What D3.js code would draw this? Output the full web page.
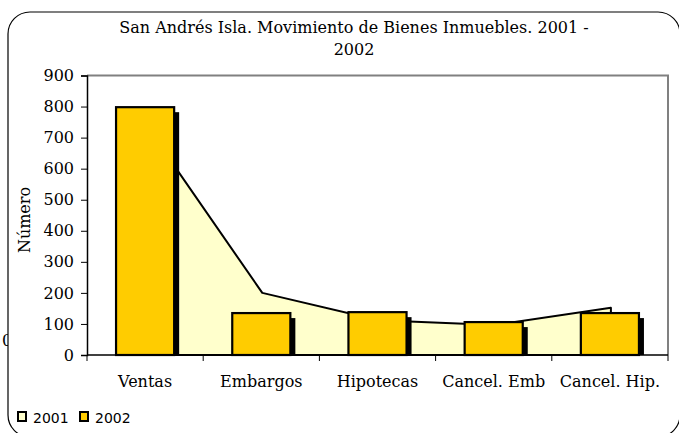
<!DOCTYPE html>
<html><head><meta charset="utf-8">
<script src="https://cdn.jsdelivr.net/npm/d3@7"></script>
<style>html,body{margin:0;padding:0;background:#fff;}svg{display:block;}</style>
</head><body>
<script>
const categories = ["Ventas", "Embargos", "Hipotecas", "Cancel. Emb", "Cancel. Hip."];
const series2001 = [740, 200, 112, 97, 152];
const series2002 = [798, 135, 138, 106, 135];
const yTicks = [0, 100, 200, 300, 400, 500, 600, 700, 800, 900];
const seriesNames = ["2001", "2002"];
const titleLines = ["San Andrés Isla. Movimiento de Bienes Inmuebles. 2001 -", "2002"];
const yLabel = "Número";

const W = 679, H = 433;
const svg = d3.select("body").append("svg").attr("width", W).attr("height", H);
const serif = "'DejaVu Serif', serif";
const sans = "'DejaVu Sans', sans-serif";

// clipped stray text
svg.append("text").attr("x", 2).attr("y", 346).style("font-family", serif).style("font-size", "16px").text("0");
// chart area
svg.append("rect").attr("x", 8).attr("y", 12).attr("width", 672).attr("height", 425)
  .attr("rx", 22).attr("fill", "#fff").attr("stroke", "#000").attr("stroke-width", 1.2);

const pL = 87, pR = 668, pT = 75.5, pB = 355;
const x = d3.scaleBand().domain(categories).range([pL, pR]);
const y = d3.scaleLinear().domain([0, 900]).range([pB, pT]);

// plot border (gray)
svg.append("path").attr("d", `M${pL},${pT}H${pR}V${pB}`).attr("fill", "none")
  .attr("stroke", "#808080").attr("stroke-width", 2);

// 2001 area
const area = d3.area().x((d, i) => x(categories[i]) + x.bandwidth() / 2 + 1).y0(y(0)).y1(d => y(d));
svg.append("path").datum(series2001).attr("d", area).attr("fill", "#FFFFCC")
  .attr("stroke", "#000").attr("stroke-width", 2).attr("stroke-linejoin", "round");

// 2002 bars
const bw = x.bandwidth() * 0.5;
const bx = c => x(c) + (x.bandwidth() - bw) / 2;
svg.append("g").selectAll("rect").data(series2002).join("rect")
  .attr("x", (d, i) => bx(categories[i]) + 5).attr("y", d => y(d) + 5)
  .attr("width", bw).attr("height", d => y(0) - y(d) - 5).attr("fill", "#000");
svg.append("g").selectAll("rect").data(series2002).join("rect")
  .attr("x", (d, i) => bx(categories[i])).attr("y", d => y(d))
  .attr("width", bw).attr("height", d => y(0) - y(d))
  .attr("fill", "#FFCC00").attr("stroke", "#000").attr("stroke-width", 2.2);

// axes
const yAxis = svg.append("g").attr("transform", `translate(${pL},0)`)
  .call(d3.axisLeft(y).tickValues(yTicks).tickSize(6).tickPadding(7));
yAxis.attr("font-family", null);
yAxis.select(".domain").attr("stroke-width", 1.5);
yAxis.selectAll("text").style("font-family", serif).style("font-size", "16px").attr("fill", "#000");

const xAxis = svg.append("g").attr("transform", `translate(0,${pB})`);
xAxis.append("line").attr("x1", pL).attr("x2", pR).attr("stroke", "#000").attr("stroke-width", 1.5);
xAxis.selectAll("line.t").data(categories.concat([null])).join("line").attr("class", "t")
  .attr("x1", (d, i) => pL + i * x.step()).attr("x2", (d, i) => pL + i * x.step())
  .attr("y1", 0).attr("y2", 6).attr("stroke", "#000");
xAxis.selectAll("text").data(categories).join("text")
  .attr("x", d => x(d) + x.bandwidth() / 2).attr("y", 32).attr("text-anchor", "middle")
  .style("font-family", serif).style("font-size", "16px").text(d => d);

// title
svg.append("g").selectAll("text").data(titleLines).join("text")
  .attr("x", 354).attr("y", (d, i) => 33 + i * 22).attr("text-anchor", "middle")
  .style("font-family", serif).style("font-size", "16px").text(d => d);

// y label
svg.append("text").attr("transform", "translate(30,220) rotate(-90)").attr("text-anchor", "middle")
  .style("font-family", serif).style("font-size", "16px").text(yLabel);

// legend
const legColors = ["#FFFFCC", "#FFCC00"];
const lg = svg.append("g").attr("transform", "translate(17,409)");
seriesNames.forEach((s, i) => {
  const g = lg.append("g").attr("transform", `translate(${i * 62},0)`);
  g.append("rect").attr("x", 1).attr("y", 3).attr("width", 8).attr("height", 9)
    .attr("fill", legColors[i]).attr("stroke", "#000").attr("stroke-width", 2);
  g.append("text").attr("x", 16).attr("y", 14).style("font-family", sans).style("font-size", "14px").text(s);
});
</script>
</body></html>
